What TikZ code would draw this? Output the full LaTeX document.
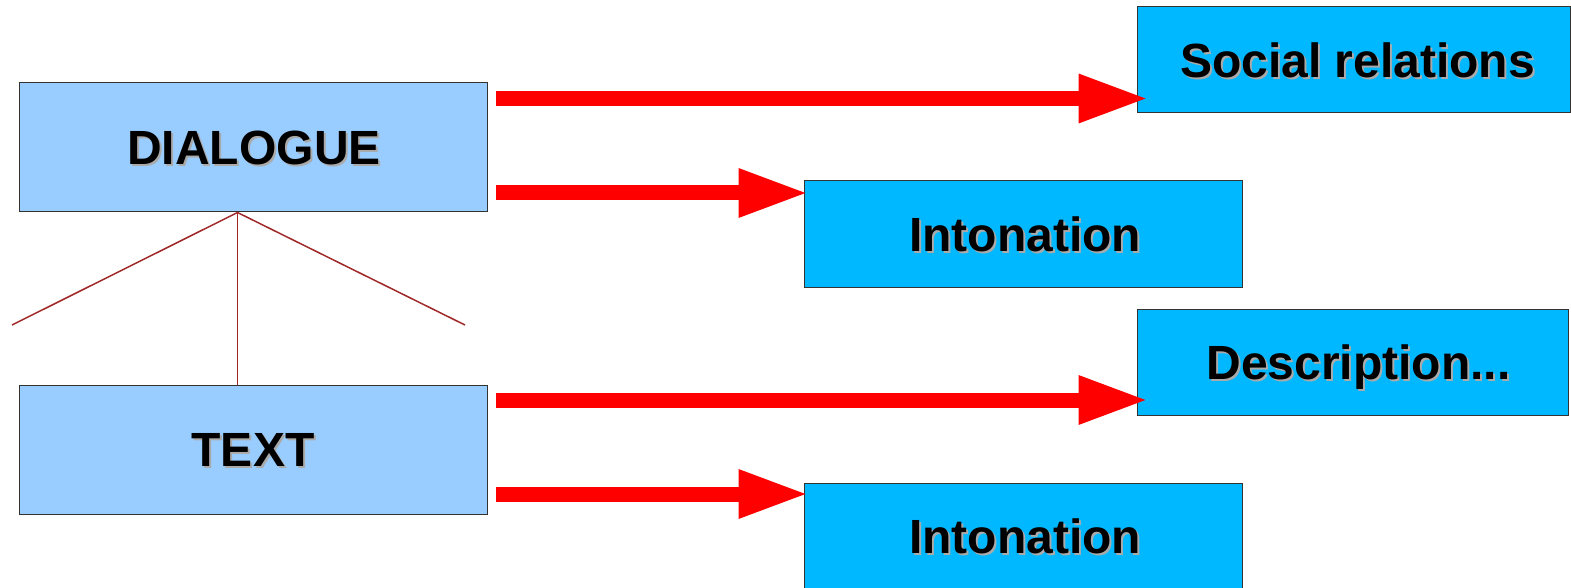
\documentclass[tikz,border=0pt]{standalone}
\usepackage{fontspec}
\setmainfont{Liberation Sans}
\usetikzlibrary{arrows.meta}
\definecolor{lightbox}{HTML}{99CCFF}
\definecolor{brightbox}{HTML}{00B8FF}
\definecolor{boxline}{HTML}{333333}
\definecolor{treeline}{HTML}{A02828}
\definecolor{shadowgray}{HTML}{AAAAAA}
\tikzset{
  boxbase/.style={rectangle, draw=boxline, line width=1pt, inner sep=0pt},
  lightbox/.style={boxbase, fill=lightbox, minimum width=468pt, minimum height=129pt},
  brightbox/.style={boxbase, fill=brightbox, minimum height=106pt},
  lbl/.style={inner sep=0pt, text height=34.5pt, text depth=0pt, font=\fontsize{48}{48}\selectfont\bfseries},
  shadowlbl/.style={lbl, text=shadowgray},
  bigarrow/.style={draw=red, line width=15pt, -{Triangle[length=70pt,width=45pt]}},
  tree/.style={draw=treeline, line width=1.5pt}
}
\newcommand{\shlabel}[3][0]{%
  \node[shadowlbl] at ([xshift=#1pt+2pt,yshift=-2pt]#2.center) {#3};
  \node[lbl] at ([xshift=#1pt]#2.center) {#3};}
\begin{document}
\begin{tikzpicture}[x=1pt,y=-1pt]
\useasboundingbox (0,0) rectangle (1571,588);
% boxes
\node[lightbox] (dlg) at (253,147.5) {};
\node[lightbox] (txt) at (253,449.5) {};
\node[brightbox, minimum width=433pt] (soc) at (1353.5,60) {};
\node[brightbox, minimum width=438pt] (int1) at (1023,234) {};
\node[brightbox, minimum width=431pt] (desc) at (1352.5,362.5) {};
\node[brightbox, minimum width=438pt] (int2) at (1023,536) {};
% labels
\shlabel[1]{dlg}{DIALOGUE}
\shlabel{txt}{TEXT}
\shlabel[4]{soc}{Social relations}
\shlabel[2]{int1}{Intonation}
\shlabel[6]{desc}{Description...}
\shlabel[2]{int2}{Intonation}
% tree lines
\coordinate (lt) at (12,325);
\coordinate (rt) at (465,325);
\draw[tree] (lt) -- ([xshift=-15.5pt]dlg.south) -- (rt);
\draw[tree] ([xshift=-15.5pt]dlg.south) -- ([xshift=-15.5pt]txt.north);
% arrows
\draw[bigarrow] ([xshift=8pt,yshift=49pt]dlg.east) -- ([xshift=12pt,yshift=-38.5pt]soc.west);
\draw[bigarrow] ([xshift=8pt,yshift=-45.5pt]dlg.east) -- ([xshift=5pt,yshift=41pt]int1.west);
\draw[bigarrow] ([xshift=8pt,yshift=49.5pt]txt.east) -- ([xshift=12pt,yshift=-37.5pt]desc.west);
\draw[bigarrow] ([xshift=8pt,yshift=-44.5pt]txt.east) -- ([xshift=5pt,yshift=42pt]int2.west);
\end{tikzpicture}
\end{document}
